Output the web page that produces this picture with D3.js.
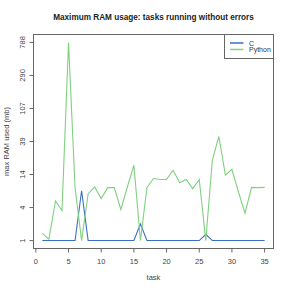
<!DOCTYPE html>
<html>
<head>
<meta charset="utf-8">
<script src="https://cdn.jsdelivr.net/npm/d3@7"></script>
<style>
  body { margin: 0; background: #fff; }
  text { font-family: "Liberation Sans", Arial, sans-serif; }
</style>
</head>
<body>
<div id="chart"></div>
<script>
// data: max RAM (mb) per task
const tasks = d3.range(1, 36);
const cRam = [1, 1, 1, 1, 1, 1, 7.98, 1, 1, 1, 1, 1, 1, 1, 1, 2.3, 1, 1, 1, 1,
  1, 1, 1, 1, 1, 1.42, 1, 1, 1, 1, 1, 1, 1, 1, 1];
const pyRam = [1.49, 1.09, 5.62, 3.96, 788, 8.77, 1, 7.24, 9.06, 6.1, 8.87, 8.87,
  4.11, 9.06, 18.4, 1, 8.96, 12.0, 11.65, 11.65, 15.7, 10.45, 11.65, 8.57, 11.65,
  1, 21.5, 45.2, 13.4, 16.2, 7.66, 3.58, 8.96, 8.87, 8.96];
const yTickLabels = [1, 4, 14, 39, 107, 290, 788];
const xTicks = [0, 5, 10, 15, 20, 25, 30, 35];
const seriesNames = ["C", "Python"];
const seriesColors = ["#3a6fc4", "#80d080"];

const W = 291, H = 291;
const pLeft = 33.5, pRight = 273.5, pTop = 34.5, pBottom = 248.5;

const svg = d3.select("#chart").append("svg")
  .attr("width", W).attr("height", H);

// values are drawn as log(x + 1)
const tr = v => Math.log(v + 1);
const all = cRam.concat(pyRam).map(tr);
const [tmin, tmax] = d3.extent(all);
const ypad = (tmax - tmin) * 0.04;
const xpad = (d3.max(tasks) - d3.min(tasks)) * 0.04;

const x = d3.scaleLinear()
  .domain([d3.min(tasks) - xpad, d3.max(tasks) + xpad])
  .range([pLeft, pRight]);
const y = d3.scaleLinear()
  .domain([tmin - ypad, tmax + ypad])
  .range([pBottom, pTop]);

// box
svg.append("rect")
  .attr("x", pLeft).attr("y", pTop)
  .attr("width", pRight - pLeft).attr("height", pBottom - pTop)
  .attr("fill", "none").attr("stroke", "#666").attr("stroke-width", 1);

// x axis
const xAxis = svg.append("g").attr("transform", `translate(0,${pBottom})`);
xAxis.selectAll("line").data(xTicks).join("line")
  .attr("x1", d => x(d)).attr("x2", d => x(d))
  .attr("y1", 0).attr("y2", 4)
  .attr("stroke", "#666");
xAxis.selectAll("text").data(xTicks).join("text")
  .attr("x", d => x(d)).attr("y", 12.5)
  .attr("text-anchor", "middle")
  .attr("dominant-baseline", "central")
  .attr("font-size", "7.5px").attr("fill", "#444")
  .text(d => d);

// y axis, ticks evenly spread over the data range
const yTickPos = yTickLabels.map((d, i) => tmin + i * (tmax - tmin) / (yTickLabels.length - 1));
const yAxis = svg.append("g");
yAxis.selectAll("line").data(yTickPos).join("line")
  .attr("x1", pLeft - 4).attr("x2", pLeft)
  .attr("y1", d => y(d)).attr("y2", d => y(d))
  .attr("stroke", "#666");
yAxis.selectAll("text").data(yTickPos).join("text")
  .attr("transform", d => `translate(${pLeft - 11},${y(d)}) rotate(-90)`)
  .attr("text-anchor", "middle")
  .attr("dominant-baseline", "central")
  .attr("font-size", "7.5px").attr("fill", "#444")
  .text((d, i) => yTickLabels[i]);

// lines
const line = d3.line()
  .x((d, i) => x(tasks[i]))
  .y(d => y(tr(d)));
[cRam, pyRam].forEach((s, i) => {
  svg.append("path")
    .datum(s)
    .attr("d", line)
    .attr("fill", "none")
    .attr("stroke", seriesColors[i])
    .attr("stroke-width", 1.1);
});

// legend
const lg = svg.append("g").attr("transform", `translate(224.5,${pTop})`);
lg.append("rect")
  .attr("width", pRight - 224.5).attr("height", 24)
  .attr("fill", "#fff").attr("stroke", "#666");
seriesNames.forEach((n, i) => {
  lg.append("line")
    .attr("x1", 5.5).attr("x2", 19)
    .attr("y1", 8.5 + i * 6.5).attr("y2", 8.5 + i * 6.5)
    .attr("stroke", seriesColors[i]).attr("stroke-width", 1.5);
  lg.append("text")
    .attr("x", 24.5).attr("y", 8.5 + i * 6.5)
    .attr("dominant-baseline", "central")
    .attr("font-size", "7px").attr("fill", "#333")
    .text(n);
});

// title and labels
svg.append("text")
  .attr("x", (pLeft + pRight) / 2).attr("y", 17)
  .attr("text-anchor", "middle")
  .attr("dominant-baseline", "central")
  .attr("font-size", "8.2px").attr("font-weight", "bold").attr("fill", "#222")
  .text("Maximum RAM usage: tasks running without errors");

svg.append("text")
  .attr("x", (pLeft + pRight) / 2).attr("y", 277)
  .attr("text-anchor", "middle")
  .attr("dominant-baseline", "central")
  .attr("font-size", "7.5px").attr("fill", "#444")
  .text("task");

svg.append("text")
  .attr("transform", `translate(6,${(pTop + pBottom) / 2}) rotate(-90)`)
  .attr("text-anchor", "middle")
  .attr("dominant-baseline", "central")
  .attr("font-size", "7.5px").attr("fill", "#444")
  .text("max RAM used (mb)");
</script>
</body>
</html>
